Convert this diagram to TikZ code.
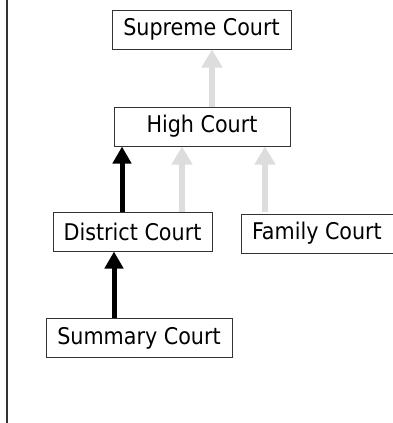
\documentclass[tikz,border=0pt]{standalone}
\usepackage{fontspec}
\setmainfont{DejaVu Sans Condensed}
\usepackage{xcolor}
\usetikzlibrary{arrows.meta}

\definecolor{lightarrow}{HTML}{DDDDDD}
\definecolor{boxline}{HTML}{333333}

\begin{document}
\begin{tikzpicture}[
    x=1pt, y=-1pt,
    court/.style={
        rectangle,
        draw=boxline,
        line width=1pt,
        minimum height=39pt,
        inner sep=0pt,
        font=\fontsize{23}{27}\selectfont
    },
    appeal/.style={-{Triangle[length=17pt,width=18pt]}, line width=5pt, black},
    noappeal/.style={-{Triangle[length=18pt,width=20pt]}, line width=6.5pt, lightarrow}
]

\useasboundingbox (0,0) rectangle (393,423);
\draw[boxline, line width=1.5pt] (7,0) -- (7,423);

\node[court, minimum width=179pt] (supreme) at (201.5, 29.5) {Supreme Court};
\node[court, minimum width=176pt] (high) at (202, 126.5) {High Court};
\node[court, minimum width=159pt] (district) at (132.5, 231.5) {District Court};
\node[court, minimum width=162pt] (family) at (322, 233.5) {\hspace*{-10pt}Family Court};
\node[court, minimum width=186pt] (summary) at (139, 338) {Summary Court};

\draw[noappeal] ([xshift=10pt]high.north) -- ([xshift=10pt]high.north |- supreme.south);
\draw[appeal] ([xshift=-10.5pt]district.north) -- ([xshift=-10.5pt]district.north |- high.south);
\draw[noappeal] ([xshift=49.5pt]district.north) -- ([xshift=49.5pt]district.north |- high.south);
\draw[noappeal] ([xshift=-57pt,yshift=2pt]family.north) -- ([xshift=-57pt]family.north |- high.south);
\draw[appeal] ([xshift=-25pt]summary.north) -- ([xshift=-25pt]summary.north |- district.south);

\end{tikzpicture}
\end{document}
